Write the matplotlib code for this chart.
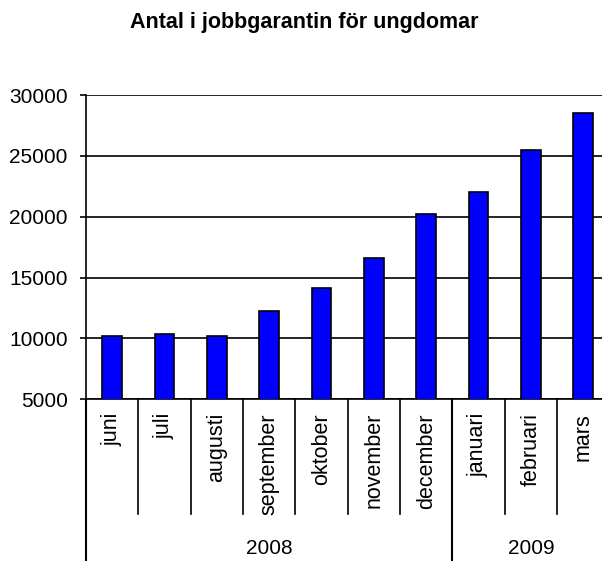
import matplotlib.pyplot as plt

months = ['juni', 'juli', 'augusti', 'september', 'oktober', 'november',
          'december', 'januari', 'februari', 'mars']
years = ['2008', '2009']
months_per_year = [7, 3]
antal = [10200, 10400, 10200, 12250, 14150, 16650, 20250, 22050, 25500, 28500]

plt.rcParams['font.family'] = ['Liberation Sans', 'DejaVu Sans']

fig = plt.figure(figsize=(6.02, 5.61), dpi=100)
ax = fig.add_axes([0.1429, 0.2882, 0.8693, 0.5424])

x = list(range(len(months)))
ax.bar(x, antal, width=0.38, color='#0000ff', edgecolor='black', linewidth=1.2, zorder=3)

ax.set_xlim(-0.5, len(months) - 0.5)
ax.set_ylim(5000, 30000)
ax.set_yticks(range(5000, 30001, 5000))
ax.tick_params(axis='y', labelsize=15, length=4.3, width=1.2, pad=9, direction='out')
ax.yaxis.grid(True, color='black', linewidth=1.2, zorder=0)
ax.set_axisbelow(True)
ax.set_xticks([])

for side in ['top', 'right']:
    ax.spines[side].set_visible(False)
for side in ['left', 'bottom']:
    ax.spines[side].set_linewidth(1.2)

trans = ax.get_xaxis_transform()

# month labels and short separators
for i, m in enumerate(months):
    ax.text(i, -0.045, m, transform=trans, rotation=90, ha='center', va='top', fontsize=15.5)
for i in range(1, len(months)):
    ax.plot([i - 0.5, i - 0.5], [0, -0.377], transform=trans, color='black',
            linewidth=1.2, clip_on=False)

# year labels and long separators
start = 0
for y, n in zip(years, months_per_year):
    ax.plot([start - 0.5, start - 0.5], [0, -0.54], transform=trans, color='black',
            linewidth=1.5, clip_on=False)
    ax.text(start + (n - 1) / 2, -0.489, y, transform=trans, ha='center', va='center',
            fontsize=15)
    start += n
ax.plot([start - 0.5, start - 0.5], [0, -0.54], transform=trans, color='black',
        linewidth=1.5, clip_on=False)

fig.text(0.506, 1 - 27.7 / 561, 'Antal i jobbgarantin för ungdomar', ha='center',
         va='baseline', fontsize=15.5, fontweight='bold')

fig.savefig('out.png', dpi=100)
